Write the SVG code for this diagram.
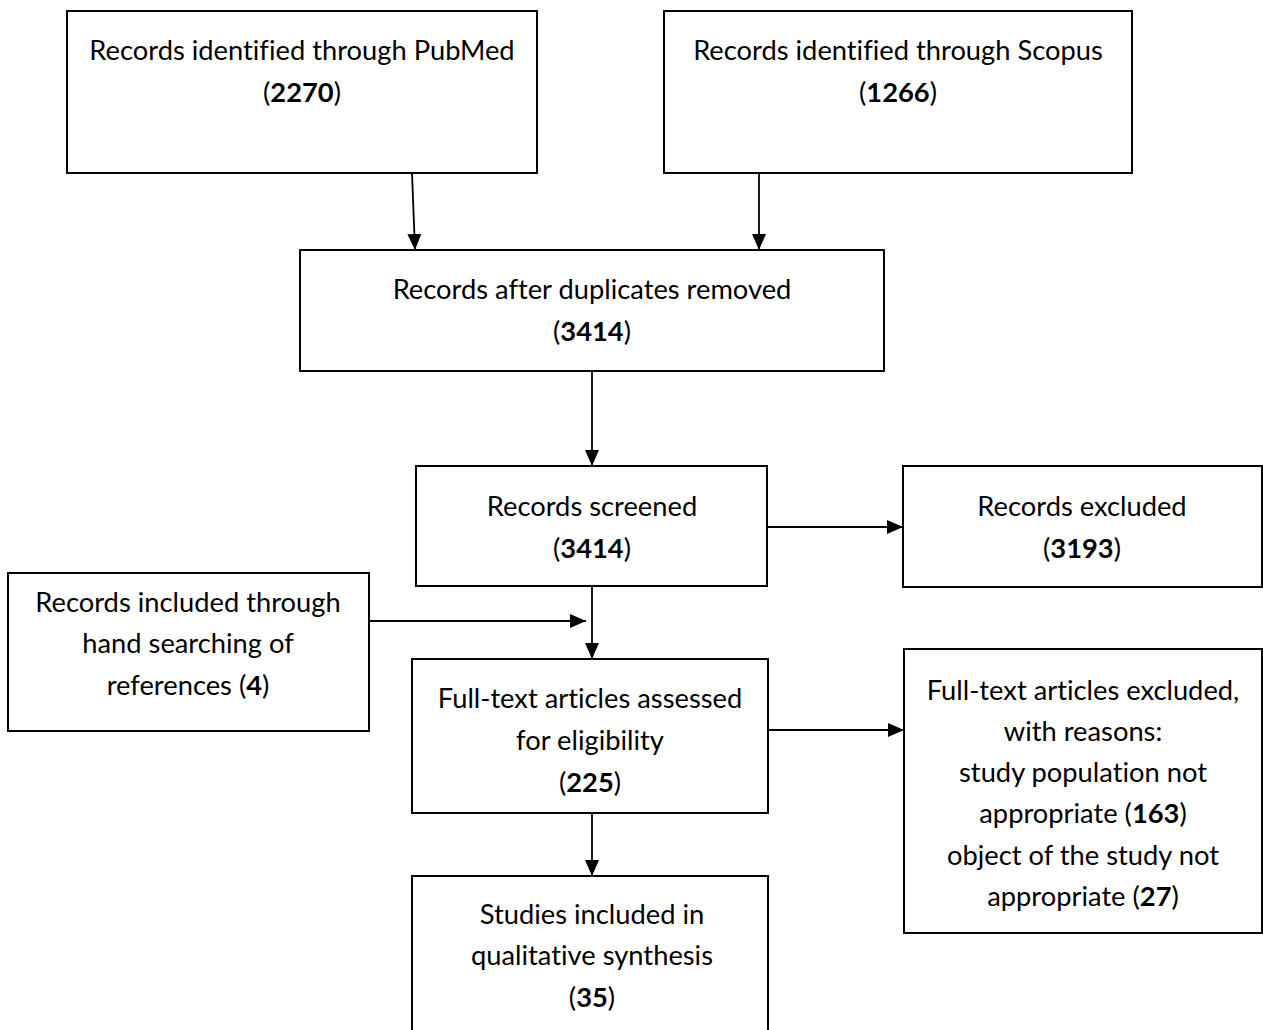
<svg xmlns="http://www.w3.org/2000/svg" width="1263" height="1030" viewBox="0 0 1263 1030">
<style>
.box{fill:#fff;stroke:#000;stroke-width:2}
.t{font-family:Lato,"Liberation Sans",sans-serif;font-size:27.3px;fill:#000;text-anchor:middle;font-variant-ligatures:none}
.b{font-weight:bold}
.c{stroke:#000;stroke-width:1.8;fill:none;marker-end:url(#ah)}
</style>
<defs>
<marker id="ah" markerUnits="userSpaceOnUse" markerWidth="16" markerHeight="16" viewBox="0 0 16 16" refX="16" refY="8" orient="auto">
<path d="M0,1 L16,8 L0,15 Z" fill="#000"/>
</marker>
</defs>
<rect width="1263" height="1030" fill="#fff"/>
<g id="connectors">
<line class="c" x1="412" y1="173" x2="415" y2="250"/>
<line class="c" x1="759" y1="173" x2="759" y2="250"/>
<line class="c" x1="592" y1="371" x2="592" y2="466"/>
<line class="c" x1="767" y1="527" x2="903" y2="527"/>
<line class="c" x1="370" y1="621" x2="586" y2="621"/>
<line class="c" x1="592" y1="586" x2="592" y2="659"/>
<line class="c" x1="768" y1="730" x2="904" y2="730"/>
<line class="c" x1="592" y1="813" x2="592" y2="876"/>
</g>
<g id="pubmed">
<rect class="box" x="67" y="11" width="470" height="162"/>
<text class="t" x="302" y="60">Records identified through PubMed</text>
<text class="t" x="302" y="102">(<tspan class="b">2270</tspan>)</text>
</g>
<g id="scopus">
<rect class="box" x="664" y="11" width="468" height="162"/>
<text class="t" x="898" y="60">Records identified through Scopus</text>
<text class="t" x="898" y="102">(<tspan class="b">1266</tspan>)</text>
</g>
<g id="duplicates">
<rect class="box" x="300" y="250" width="584" height="121"/>
<text class="t" x="592" y="299">Records after duplicates removed</text>
<text class="t" x="592" y="341">(<tspan class="b">3414</tspan>)</text>
</g>
<g id="screened">
<rect class="box" x="416" y="466" width="351" height="120"/>
<text class="t" x="592" y="516">Records screened</text>
<text class="t" x="592" y="558">(<tspan class="b">3414</tspan>)</text>
</g>
<g id="excluded">
<rect class="box" x="903" y="466" width="359" height="121"/>
<text class="t" x="1082" y="516">Records excluded</text>
<text class="t" x="1082" y="558">(<tspan class="b">3193</tspan>)</text>
</g>
<g id="handsearch">
<rect class="box" x="8" y="573" width="361" height="158"/>
<text class="t" x="188" y="612">Records included through</text>
<text class="t" x="188" y="653">hand searching of</text>
<text class="t" x="188" y="695">references (<tspan class="b">4</tspan>)</text>
</g>
<g id="fulltext">
<rect class="box" x="412" y="659" width="356" height="154"/>
<text class="t" x="590" y="708">Full-text articles assessed</text>
<text class="t" x="590" y="750">for eligibility</text>
<text class="t" x="590" y="792">(<tspan class="b">225</tspan>)</text>
</g>
<g id="fulltext-excluded">
<rect class="box" x="904" y="649" width="358" height="284"/>
<text class="t" x="1083" y="700">Full-text articles excluded,</text>
<text class="t" x="1083" y="741">with reasons:</text>
<text class="t" x="1083" y="782">study population not</text>
<text class="t" x="1083" y="823">appropriate (<tspan class="b">163</tspan>)</text>
<text class="t" x="1083" y="865">object of the study not</text>
<text class="t" x="1083" y="906">appropriate (<tspan class="b">27</tspan>)</text>
</g>
<g id="studies">
<rect class="box" x="412" y="876" width="356" height="160"/>
<text class="t" x="592" y="924">Studies included in</text>
<text class="t" x="592" y="965">qualitative synthesis</text>
<text class="t" x="592" y="1007">(<tspan class="b">35</tspan>)</text>
</g>
</svg>
